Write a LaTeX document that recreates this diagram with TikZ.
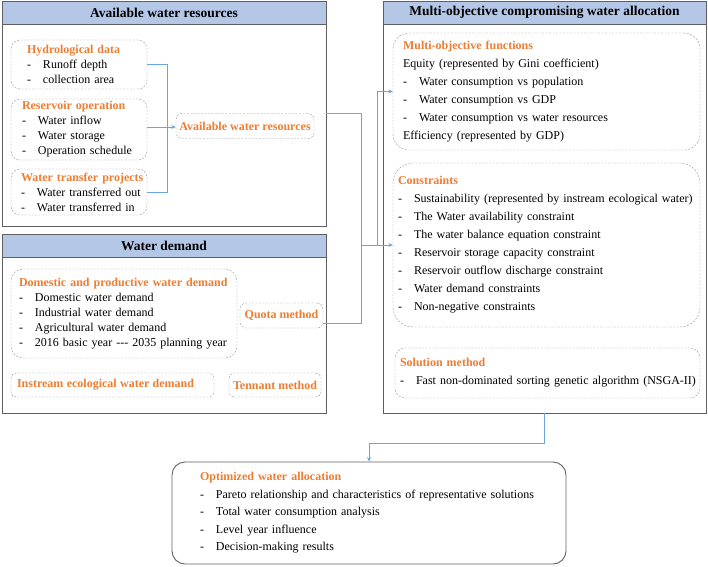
\documentclass[tikz,border=0pt]{standalone}
\usepackage{fontspec}
\setmainfont{Liberation Serif}
\usepackage{tikz}
\usetikzlibrary{positioning,arrows.meta,calc}

\definecolor{hdrblue}{RGB}{180,199,231}
\definecolor{wOrange}{RGB}{237,125,49}
\definecolor{linkblue}{RGB}{110,165,222}
\definecolor{dashgray}{RGB}{150,150,150}
\definecolor{panelgray}{RGB}{95,95,95}

\newcommand{\itm}[1]{\mbox{\makebox[16pt][l]{-}#1}}
\newcommand{\ttl}[1]{\mbox{\fontsize{12}{15}\selectfont\bfseries\color{wOrange}#1}}

\begin{document}
\begin{tikzpicture}[x=1pt, y=-1pt,
    panel/.style={draw=panelgray, line width=0.9pt, fill=white},
    header/.style={draw=panelgray, line width=0.9pt, fill=hdrblue, font=\fontsize{13.5}{16}\selectfont\bfseries},
    dbox/.style={draw=dashgray, dash pattern=on 2pt off 1.5pt, rounded corners=9pt, align=left, inner ysep=0pt},
    lst/.style={font=\fontsize{12}{15}\selectfont},
    lstwide/.style={font=\fontsize{12}{18}\selectfont},
    line/.style={draw=linkblue, line width=0.8pt},
    link/.style={line, -{Stealth[length=4.5pt, width=4pt]}}]
    \useasboundingbox (0,0) rectangle (708,566);

    % Available water resources
    \node[panel, minimum width=324pt, minimum height=225pt] (panA) at (164,113.5) {};
    \node[header, minimum width=324pt, minimum height=23pt] (hdrA) at (164,12.5) {Available water resources};
    \node[dbox, lst, text width=104pt, inner xsep=16pt, minimum height=49pt] (hydro) at (79,64.5)
        {\ttl{Hydrological data}\\ \itm{Runoff depth}\\ \itm{collection area}};
    \node[dbox, lst, text width=114pt, inner xsep=11pt, minimum height=61pt] (resop) at (79,129.5)
        {\ttl{Reservoir operation}\\ \itm{Water inflow}\\ \itm{Water storage}\\ \itm{Operation schedule}};
    \node[dbox, lst, text width=116pt, inner xsep=10pt, minimum height=46pt] (transf) at (79,192)
        {\ttl{Water transfer projects}\\ \itm{Water transferred out}\\ \itm{Water transferred in}};
    \node[dbox, minimum width=136pt, minimum height=25pt, rounded corners=6pt] (availres) at (245,126)
        {\ttl{Available water resources}};

    % Water demand
    \node[panel, minimum width=324pt, minimum height=179pt] (panB) at (164,323.5) {};
    \node[header, minimum width=324pt, minimum height=23pt] (hdrB) at (164,245.5) {Water demand};
    \node[dbox, lst, text width=210pt, inner xsep=8pt, minimum height=89pt, rounded corners=12pt] (domestic) at (124,313.5)
        {\ttl{Domestic and productive water demand}\\ \itm{Domestic water demand}\\ \itm{Industrial water demand}\\
         \itm{Agricultural water demand}\\ \itm{2016 basic year -{}-{}- 2035 planning year}};
    \node[dbox, minimum width=83pt, minimum height=25pt, rounded corners=6pt] (quota) at (281.5,315.5) {\ttl{Quota method}};
    \node[dbox, text width=191pt, inner xsep=6pt, minimum height=24pt, rounded corners=5pt] (instream) at (112.5,385)
        {\ttl{Instream ecological water demand}};
    \node[dbox, minimum width=92pt, minimum height=24pt, rounded corners=5pt] (tennant) at (275,385) {\ttl{Tennant method}};

    % Multi-objective compromising water allocation
    \node[panel, minimum width=323pt, minimum height=412pt] (panC) at (544.5,207) {};
    \node[header, minimum width=323pt, minimum height=23pt] (hdrC) at (544.5,12.5) {Multi-objective compromising water allocation};
    \node[dbox, lstwide, text width=287pt, inner xsep=10pt, minimum height=117pt, rounded corners=16pt] (mof) at (546.5,91.5)
        {\ttl{Multi-objective functions}\\ Equity (represented by Gini coefficient)\\ \itm{Water consumption vs population}\\
         \itm{Water consumption vs GDP}\\ \itm{Water consumption vs water resources}\\ Efficiency (represented by GDP)};
    \node[dbox, lstwide, text width=297pt, inner xsep=5pt, minimum height=164pt, rounded corners=20pt] (constr) at (546.5,245)
        {\ttl{Constraints}\\ \itm{Sustainability (represented by instream ecological water)}\\ \itm{The Water availability constraint}\\
         \itm{The water balance equation constraint}\\ \itm{Reservoir storage capacity constraint}\\
         \itm{Reservoir outflow discharge constraint}\\ \itm{Water demand constraints}\\ \itm{Non-negative constraints}};
    \node[dbox, lstwide, text width=295pt, inner xsep=5pt, minimum height=50pt, rounded corners=10pt] (solution) at (547.5,373)
        {\ttl{Solution method}\\ \itm{Fast non-dominated sorting genetic algorithm (NSGA-II)}};

    % Optimized water allocation
    \node[draw=panelgray, line width=0.9pt, rounded corners=13pt, align=left, font=\fontsize{12}{17.5}\selectfont,
          text width=338pt, inner xsep=28pt, minimum height=102pt] (result) at (369,513)
        {\ttl{Optimized water allocation}\\ \itm{Pareto relationship and characteristics of representative solutions}\\
         \itm{Total water consumption analysis}\\ \itm{Level year influence}\\ \itm{Decision-making results}};

    % Connectors
    \coordinate (jA) at (167,127);
    \coordinate (jB) at (361,245);
    \coordinate (jC) at (377,245);
    \draw[line] (hydro.east) -| (jA);
    \draw[line] (transf.east) -| (jA);
    \draw[link] (resop.east |- jA) -- (availres.west |- jA);
    \draw[line] (panA.east) -| (jB);
    \draw[line] ([yshift=-8pt]quota.east) -| (jB);
    \draw[link] (jB) -- (constr.west);
    \draw[link] (jC) |- (mof.west);
    \draw[link] (panC.south) -- ++(0,30) -| (result.north);
\end{tikzpicture}
\end{document}
